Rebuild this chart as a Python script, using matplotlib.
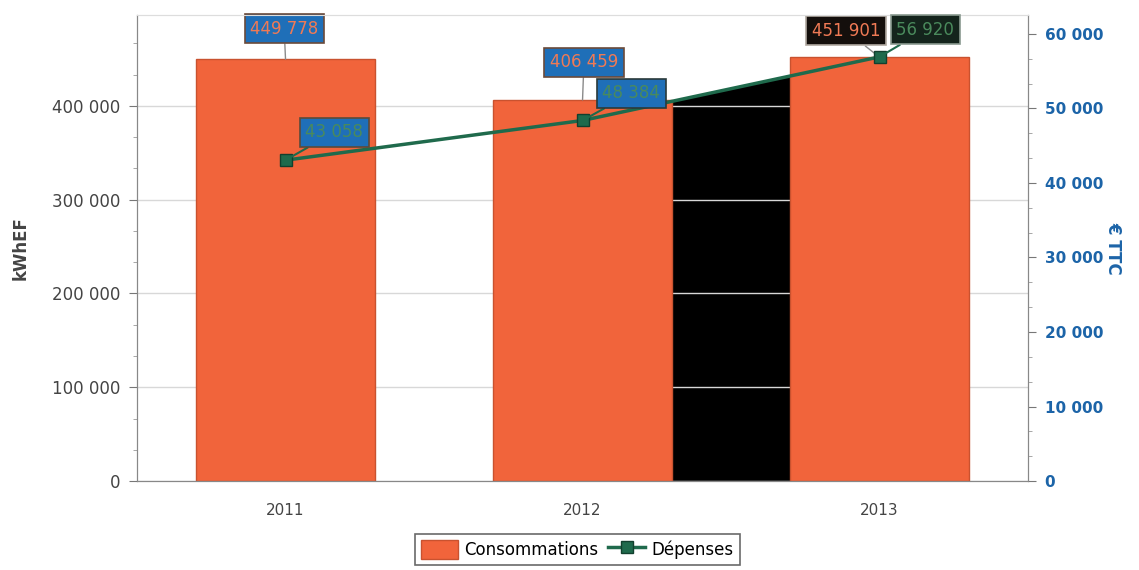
import numpy as np
import matplotlib
matplotlib.use("Agg")
import matplotlib.pyplot as plt
from matplotlib.ticker import FuncFormatter, MultipleLocator, AutoMinorLocator
from matplotlib.patches import Rectangle

annees = ['2011', '2012', '2013']
consommations = [449778, 406459, 451901]   # kWhEF
depenses = [43058, 48384, 56920]           # € TTC

BAR_COLOR = '#f1643b'
LINE_COLOR = '#1f6a4c'
BLUE = '#1c64a8'
GREY_TXT = '#444444'


def fmt_fr(v, pos=None):
    return f"{int(round(v)):,}".replace(",", " ")


fig = plt.figure(figsize=(11.39, 5.70), dpi=100)
ax1 = fig.add_axes([0.1203, 0.1561, 0.7823, 0.8176])
ax2 = ax1.twinx()

x = np.arange(len(annees))
Y1_MAX, Y2_MAX = 497000, 62540
ax1.set_xlim(-0.5, 2.5)
ax1.set_ylim(0, Y1_MAX)
ax2.set_ylim(0, Y2_MAX)

# bars
ax1.bar(x, consommations, width=0.6, color=BAR_COLOR, edgecolor='#c9522f',
        linewidth=1, zorder=2, label='Consommations')

# dark block under the expense curve between the 2012 and 2013 bars
scale = Y1_MAX / Y2_MAX
blk = ax1.fill_between(x, 0, np.array(depenses) * scale, color='black',
                       linewidth=0, zorder=0.4)
clip = Rectangle((1.3, 0), 0.4, Y1_MAX, transform=ax1.transData)
blk.set_clip_path(clip)

ax1.set_axisbelow(True)
ax1.grid(axis='y', color='#d8d8d8', linewidth=1)

# expense curve
ax2.plot(x, depenses, color=LINE_COLOR, linewidth=2.5, marker='s',
         markersize=9, markerfacecolor=LINE_COLOR, markeredgecolor='#12402e',
         zorder=3, label='Dépenses')

# axes formatting
ax1.yaxis.set_major_locator(MultipleLocator(100000))
ax1.yaxis.set_minor_locator(AutoMinorLocator(3))
ax1.yaxis.set_major_formatter(FuncFormatter(fmt_fr))
ax2.yaxis.set_major_locator(MultipleLocator(10000))
ax2.yaxis.set_minor_locator(AutoMinorLocator(3))
ax2.yaxis.set_major_formatter(FuncFormatter(fmt_fr))

ax1.set_xticks(x)
ax1.set_xticklabels(annees)
ax1.tick_params(axis='x', length=0, pad=16, labelsize=11, colors=GREY_TXT)
ax1.tick_params(axis='y', which='major', length=6, colors='#777777',
                labelcolor=GREY_TXT, labelsize=12, pad=6)
ax1.tick_params(axis='y', which='minor', length=3, colors='#999999')
ax2.tick_params(axis='y', which='major', length=6, colors='#777777',
                labelcolor=BLUE, labelsize=11, pad=6)
ax2.tick_params(axis='y', which='minor', length=3, colors='#999999')
for lab in ax2.get_yticklabels():
    lab.set_fontweight('bold')

for ax in (ax1, ax2):
    ax.spines['top'].set_color('#dddddd')
    ax.spines['left'].set_color('#888888')
    ax.spines['right'].set_color('#888888')
    ax.spines['bottom'].set_color('#888888')

ax1.set_ylabel('kWhEF', fontsize=12, fontweight='bold', color=GREY_TXT, labelpad=16)
ax2.set_ylabel('€ TTC', fontsize=12, fontweight='bold', color=BLUE,
               rotation=270, labelpad=14)

# value labels
bar_boxes = [('#1f6fb8', '#6b4a3a'), ('#1f6fb8', '#6b4a3a'), ('#140f0c', '#b0a8a0')]
bar_offsets = [(-1, 22), (1, 27), (-24, 19)]
for xi, v, (fc, ec), off in zip(x, consommations, bar_boxes, bar_offsets):
    ax1.annotate(fmt_fr(v), (xi, v), xytext=off, textcoords='offset points',
                 ha='center', va='center', fontsize=12, color='#f07a55',
                 bbox=dict(boxstyle='square,pad=0.33', fc=fc, ec=ec, lw=1.2),
                 arrowprops=dict(arrowstyle='-', color='#8a8a8a', lw=1,
                                 shrinkA=0, shrinkB=0),
                 zorder=5)

line_boxes = [('#1f6fb8', '#5a4a3a'), ('#1f6fb8', '#2a3a3a'), ('#14241c', '#8a9a90')]
line_offsets = [(35, 20), (35, 19.5), (33, 19.5)]
for xi, v, (fc, ec), off in zip(x, depenses, line_boxes, line_offsets):
    ax2.annotate(fmt_fr(v), (xi, v), xytext=off, textcoords='offset points',
                 ha='center', va='center', fontsize=12, color='#4a8a5c',
                 bbox=dict(boxstyle='square,pad=0.33', fc=fc, ec=ec, lw=1.2),
                 arrowprops=dict(arrowstyle='-', color=LINE_COLOR, lw=1.5,
                                 shrinkA=0, shrinkB=0),
                 zorder=6)

h1, l1 = ax1.get_legend_handles_labels()
h2, l2 = ax2.get_legend_handles_labels()
leg = fig.legend(h1 + h2, l1 + l2, loc='upper center',
                 bbox_to_anchor=(0.507, 0.078), ncol=2, frameon=True,
                 fontsize=12, fancybox=False, edgecolor='#444444',
                 handlelength=2.2, handleheight=1.4, handletextpad=0.4,
                 columnspacing=0.6, borderpad=0.35)
leg.get_frame().set_linewidth(1.2)

fig.savefig('out.png', dpi=100)
